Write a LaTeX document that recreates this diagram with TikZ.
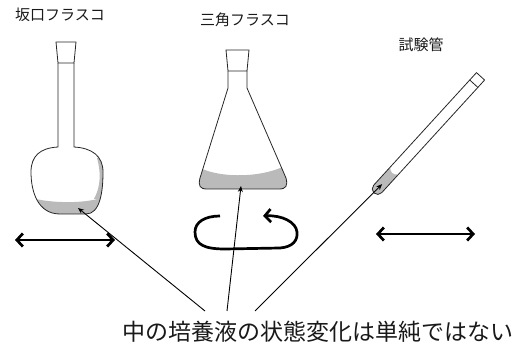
\documentclass[tikz,border=0pt]{standalone}
\usepackage{fontspec}
\setmainfont{Noto Sans CJK JP}
\usetikzlibrary{arrows.meta}
\tikzset{
  glass/.style={draw=black!85,line width=.8pt},
  liquid/.style={fill=black!27},
  pointer/.style={-{Stealth[length=6pt,width=5pt]},line width=.9pt},
  shake/.style={{Straight Barb[length=6pt,width=13pt]}-{Straight Barb[length=6pt,width=13pt]},line width=2.7pt},
  swirl/.style={-{Straight Barb[length=6pt,width=13pt]},line width=2.7pt},
  title/.style={text=black!90,font=\fontsize{15}{15}\selectfont},
}
% outlines of the two flasks
\def\roundflask{(58,63) -- (58,147) .. controls (40,148) and (31,156) .. (31,172)
  .. controls (31,192) and (38,214) .. (60,214) -- (86,214)
  .. controls (100,214) and (103,192) .. (103,172)
  .. controls (103,156) and (92,148) .. (74,147) -- (74,63)}
\def\conflask{(228,71) -- (228,88) -- (200,178) .. controls (198,186) and (200,189) .. (207,189)
  -- (279,189) .. controls (286,189) and (288,186) .. (286,178) -- (247,88) -- (247,71)}
\begin{document}
\begin{tikzpicture}[x=1pt,y=-1pt]
\useasboundingbox (0,0) rectangle (527,344);
\node[title] (t1) at (60,15) {坂口フラスコ};
\node[title] (t2) at (245,20) {三角フラスコ};
\node[title] (t3) at (421,45) {試験管};

% round flask
\begin{scope}
  \clip \roundflask -- cycle;
  \fill[liquid] (28,197) .. controls (50,204) and (90,204) .. (106,196) -- (106,220) -- (28,220) -- cycle;
  \fill[liquid] (97,158) .. controls (101,172) and (101,186) .. (94,199) -- (106,199) -- (106,158) -- cycle;
\end{scope}
\draw[glass] \roundflask;
\draw[glass] (58,63) -- (56,42) -- (76,42) -- (74,63) -- cycle;
\coordinate (r1) at (78,208);

% conical flask
\begin{scope}
  \clip \conflask -- cycle;
  \fill[liquid] (195,165) .. controls (215,179) and (265,179) .. (290,163) -- (290,195) -- (195,195) -- cycle;
\end{scope}
\draw[glass] \conflask;
\draw[glass] (228,71) -- (226,50) -- (249,50) -- (247,71) -- cycle;
\coordinate (r2) at (241,186);

% test tube
\begin{scope}[shift={(374,193)},rotate=47.6]
  \fill[liquid] (30,-5.5) .. controls (26,-2) and (26,2) .. (30,5.5) -- (5.5,5.5)
    arc[start angle=90,end angle=270,radius=5.5] -- cycle;
  \draw[glass] (158,-5.5) -- (5.5,-5.5) arc[start angle=-90,end angle=-270,radius=5.5]
    -- (158,5.5) -- cycle;
  \draw[glass] (148,-5.5) -- (148,5.5);
  \coordinate (r3) at (12,0);
\end{scope}

% how each vessel is moved
\coordinate (s1) at (15,240); \coordinate (s2) at (115,240);
\draw[shake] (s1) -- (s2);
\coordinate (s3) at (376,234); \coordinate (s4) at (475,234);
\draw[shake] (s3) -- (s4);
\coordinate (w1) at (220,216); \coordinate (w2) at (263,216);
\draw[swirl] (w1) .. controls (205,216) and (195,222) .. (195,232)
  .. controls (195,245) and (205,249) .. (225,249) -- (280,248)
  .. controls (293,247) and (298,240) .. (297,232)
  .. controls (296,222) and (282,215) .. (w2);

\node[text=black!90,font=\fontsize{23}{23}\selectfont] (note) at (318,332) {中の培養液の状態変化は単純ではない};
\coordinate (p1) at (205,311); \coordinate (p2) at (227,311); \coordinate (p3) at (255,311);
\draw[pointer] (p1) -- (r1);
\draw[pointer] (p2) -- (r2);
\draw[pointer] (p3) -- (r3);
\end{tikzpicture}
\end{document}
